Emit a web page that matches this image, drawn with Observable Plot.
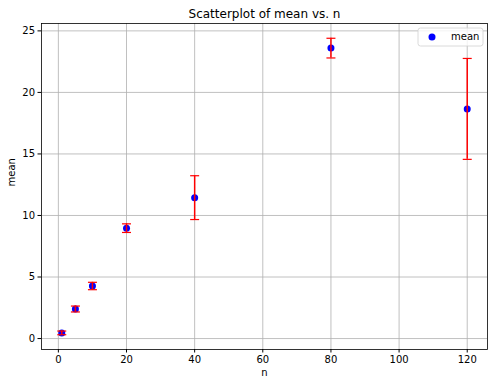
<!DOCTYPE html>
<html><head><meta charset="utf-8">
<script src="https://cdn.jsdelivr.net/npm/d3@7"></script>
<script src="https://cdn.jsdelivr.net/npm/@observablehq/plot@0.6"></script>
<style>body{margin:0;background:#fff;} #chart{position:relative;width:494px;height:387px;}</style>
</head><body><div id="chart"></div>
<script>
const nValues = [1, 5, 10, 20, 40, 80, 120];
const meanValues = [0.46, 2.40, 4.27, 8.97, 11.45, 23.6, 18.66];
const errValues = [0.15, 0.24, 0.3, 0.35, 1.78, 0.8, 4.1];
const xTicks = [0, 20, 40, 60, 80, 100, 120];
const yTicks = [0, 5, 10, 15, 20, 25];

const data = nValues.map((n, i) => ({n, mean: meanValues[i], err: errValues[i]}));

const capSymbol = {draw(ctx, size) { const w = 4.5; ctx.moveTo(-w, 0); ctx.lineTo(w, 0); }};
const font = "DejaVu Sans, sans-serif";

const chart = Plot.plot({
  width: 494, height: 387,
  marginLeft: 41, marginRight: 7, marginTop: 23, marginBottom: 38,
  style: {fontFamily: font, fontSize: "10px", color: "#000", background: "#fff"},
  x: {domain: [-4.95, 125.95], ticks: xTicks, label: null},
  y: {domain: [-0.89, 25.6], ticks: yTicks, label: null},
  marks: [
    Plot.gridX(xTicks, {stroke: "#b0b0b0", strokeOpacity: 1, strokeWidth: 0.8}),
    Plot.gridY(yTicks, {stroke: "#b0b0b0", strokeOpacity: 1, strokeWidth: 0.8}),
    Plot.axisX(xTicks, {tickSize: 3.5, tickPadding: 3, fontSize: 10, label: null, stroke: "#000"}),
    Plot.axisY(yTicks, {tickSize: 3.5, tickPadding: 3, fontSize: 10, label: null, stroke: "#000"}),
    Plot.frame({stroke: "#000", strokeWidth: 0.8}),
    Plot.dot(data, {x: "n", y: "mean", r: 3.5, fill: "blue", stroke: "none"}),
    Plot.ruleX(data, {x: "n", y1: d => d.mean - d.err, y2: d => d.mean + d.err, stroke: "red", strokeWidth: 1.5}),
    Plot.dot(data, {x: "n", y: d => d.mean + d.err, symbol: capSymbol, stroke: "red", strokeWidth: 1.2, fill: "none"}),
    Plot.dot(data, {x: "n", y: d => d.mean - d.err, symbol: capSymbol, stroke: "red", strokeWidth: 1.2, fill: "none"}),
    Plot.text(["Scatterplot of mean vs. n"], {frameAnchor: "top", lineAnchor: "bottom", dy: -6, fontSize: 12, fill: "#000"}),
    Plot.text(["n"], {frameAnchor: "bottom", dy: 26, fontSize: 10, fill: "#000"}),
    Plot.text(["mean"], {frameAnchor: "left", dx: -30, rotate: -90, fontSize: 10, fill: "#000"})
  ]
});
document.getElementById("chart").appendChild(chart);

// legend
const svg = d3.select(chart);
const lg = svg.append("g").attr("transform", "translate(418,28)");
lg.append("rect").attr("width", 65).attr("height", 18).attr("rx", 2.5)
  .attr("fill", "#fff").attr("fill-opacity", 0.8).attr("stroke", "#d0d0d0").attr("stroke-width", 0.8);
lg.append("circle").attr("cx", 14).attr("cy", 9).attr("r", 3.5).attr("fill", "blue");
lg.append("text").attr("x", 33).attr("y", 9).attr("dy", "0.32em").attr("text-anchor", "start")
  .attr("font-family", font).attr("font-size", 10).attr("fill", "#000").text("mean");
</script></body></html>
